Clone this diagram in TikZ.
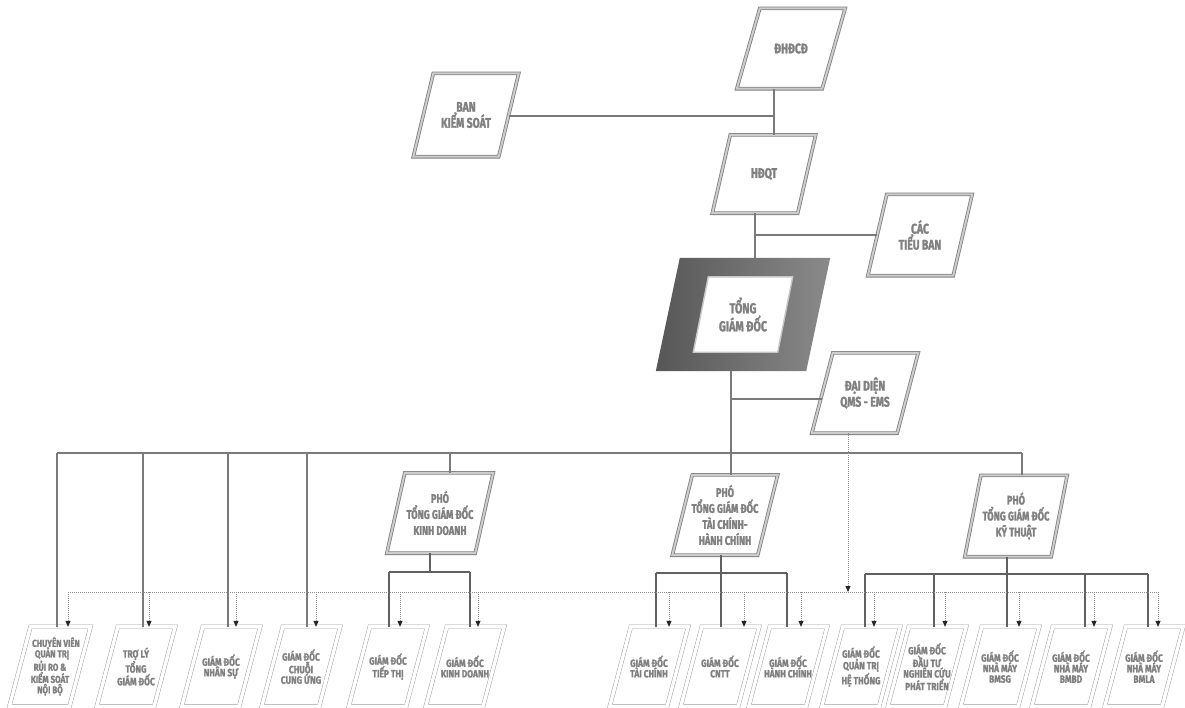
\documentclass[tikz,border=0pt]{standalone}
\usepackage{fontspec}
\newfontfamily\lblfont[FakeStretch=0.74, FakeBold=1.6]{Fira Sans}
\newfontfamily\botfont[FakeStretch=0.8, FakeBold=1.4]{Fira Sans}
\usetikzlibrary{arrows.meta,calc,backgrounds}
\definecolor{txt}{gray}{0.5}
\newcommand\para[5]{% node, slant, dx, dy, style
  \draw[#5] ([xshift=-#2/2-#3, yshift=-#4]#1.south west) -- ([xshift=-#2/2+#3, yshift=-#4]#1.south east)
   -- ([xshift=#2/2+#3, yshift=#4]#1.north east) -- ([xshift=#2/2-#3, yshift=#4]#1.north west) -- cycle;}
\newcommand\sdrop[4]{% node, xshift, bus coordinate, style
  \path ([xshift=#2]#1.north) coordinate (tmp); \draw[#4] (tmp) -- (tmp |- #3);}
\newcommand\ddrop[2]{% node, xshift
  \path ([xshift=#2]#1.north) coordinate (tmp); \draw[dotarr] (tmp |- dbus) -- (tmp);}
\begin{document}
\begin{tikzpicture}[x=1pt,y=-1pt,
  topnode/.style={inner sep=0pt, align=center, text=txt, minimum width=85pt, minimum height=80pt,
    font=\lblfont\bfseries\fontsize{14}{16}\selectfont},
  phonode/.style={topnode, font=\lblfont\bfseries\fontsize{12.5}{16}\selectfont},
  botnode/.style={topnode, minimum width=57pt, minimum height=79pt,
    font=\botfont\bfseries\fontsize{10.5}{10.5}\selectfont},
  tgdnode/.style={topnode, minimum width=84pt, minimum height=75pt,
    font=\lblfont\bfseries\fontsize{14.5}{18}\selectfont},
  topline/.style={draw=black!50, line width=0.8pt, double=black!20, double distance=2pt},
  botline/.style={draw=black!38, line width=0.45pt, double=white, double distance=3.4pt},
  conn/.style={draw=black!52, line width=1.3pt},
  subconn/.style={draw=black!62, line width=1.6pt},
  dotline/.style={draw=black!45, line width=0.8pt, dash pattern=on 0.9pt off 1.1pt},
  dotarr/.style={dotline, -{Triangle[length=6pt,width=5pt,color=black!85]}}
]
\useasboundingbox (0,0) rectangle (1185,707);

% ---- upper nodes
\node[topnode] (dhdcd) at (791,48.5) {ĐHĐCĐ};
\node[topnode, minimum height=83pt] (bks) at (466,115) {BAN\\KIỂM SOÁT};
\node[topnode, minimum height=78pt] (hdqt) at (764,174) {HĐQT};
\node[topnode, minimum height=81pt] (ctb) at (920,235) {CÁC\\TIỂU BAN};
\node[tgdnode] (tgd) at (743,314.5) {TỔNG\\GIÁM ĐỐC};
\node[topnode] (dd) at (865,393) {ĐẠI DIỆN\\QMS - EMS};
\node[phonode, minimum width=88pt] (pkd) at (440,513) {PHÓ\\TỔNG GIÁM ĐỐC\\KINH DOANH};
\node[phonode] (ptc) at (725,515) {PHÓ\\TỔNG GIÁM ĐỐC\\TÀI CHÍNH-\\HÀNH CHÍNH};
\node[phonode, minimum width=86pt, minimum height=81pt] (pkt) at (1016,516) {PHÓ\\TỔNG GIÁM ĐỐC\\KỸ THUẬT};

% ---- lower nodes
\node[botnode, font=\botfont\bfseries\fontsize{10}{10.5}\selectfont] (b1) at (50,666.5)
  {\hspace*{12pt}CHUYÊN VIÊN\\\hspace*{4pt}QUẢN TRỊ\\RỦI RO \&\\KIỂM SOÁT\\NỘI BỘ};
\node[botnode] (b2) at (136,666.5) {TRỢ LÝ\\TỔNG\\GIÁM ĐỐC};
\node[botnode] (b3) at (221,666.5) {GIÁM ĐỐC\\NHÂN SỰ};
\node[botnode] (b4) at (301,666.5) {GIÁM ĐỐC\\CHUỖI\\CUNG ỨNG};
\node[botnode] (b5) at (388,666.5) {GIÁM ĐỐC\\TIẾP THỊ};
\node[botnode] (b6) at (465,666.5) {GIÁM ĐỐC\\KINH DOANH};
\node[botnode] (b7) at (649,666.5) {GIÁM ĐỐC\\TÀI CHÍNH};
\node[botnode] (b8) at (720,666.5) {GIÁM ĐỐC\\CNTT};
\node[botnode] (b9) at (788,666.5) {GIÁM ĐỐC\\HÀNH CHÍNH};
\node[botnode] (b10) at (861,666.5) {GIÁM ĐỐC\\QUẢN TRỊ\\HỆ THỐNG};
\node[botnode] (b11) at (927,666.5) {GIÁM ĐỐC\\ĐẦU TƯ\\NGHIÊN CỨU\\PHÁT TRIỂN};
\node[botnode] (b12) at (1000,666.5) {GIÁM ĐỐC\\NHÀ MÁY\\BMSG};
\node[botnode] (b13) at (1071,666.5) {GIÁM ĐỐC\\NHÀ MÁY\\BMBD};
\node[botnode] (b14) at (1144,666.5) {GIÁM ĐỐC\\NHÀ MÁY\\BMLA};

% ---- background: white page, TGD shaded frame, box outlines (below the texts)
\begin{pgfonlayer}{background}
  \fill[white] (0,0) rectangle (1185,707);
  \shade[left color=black!66, right color=black!46]
    ([xshift=-12-33, yshift=-19]tgd.south west) -- ([xshift=-12+33, yshift=-19]tgd.south east)
    -- ([xshift=12+33, yshift=19]tgd.north east) -- ([xshift=12-33, yshift=19]tgd.north west) -- cycle;
  \para{tgd}{15}{0}{0}{fill=white, draw=black!22, line width=1.4pt}
  \para{dhdcd}{23}{0}{0}{topline}
  \para{bks}{20}{0}{0}{topline}
  \para{hdqt}{18}{0}{0}{topline}
  \para{ctb}{19}{0}{0}{topline}
  \para{dd}{21}{0}{0}{topline}
  \para{pkd}{18}{0}{0}{topline}
  \para{ptc}{20}{0}{0}{topline}
  \para{pkt}{16}{0}{0}{topline}
  \foreach \b in {b1,b2,b3,b4,b5,b6,b7,b8,b9,b10,b11,b12,b13,b14}{\para{\b}{21}{0}{0}{botline}}
\end{pgfonlayer}

% ---- upper connectors
\path ([xshift=-17]dhdcd.south) coordinate (j1);
\draw[conn] (j1) -- (j1 |- hdqt.north);
\draw[conn] ([yshift=-1]bks.east) -- ([yshift=-1]bks.east -| j1);
\path ([xshift=-9]hdqt.south) coordinate (j2);
\path ([yshift=19]tgd.north) coordinate (tgdtop);
\draw[conn] (j2) -- (j2 |- tgdtop);
\draw[conn] (ctb.west) -- (ctb.west -| j2);
\path ([xshift=-12,yshift=-19]tgd.south) coordinate (j3);
\draw[conn] (j3) -- (j3 |- ptc.north);
\path ([yshift=-6]dd.west) coordinate (j4);
\draw[conn] (j4) -- (j4 -| j3);

% ---- main bus
\coordinate (mb) at (0,453);
\path ([xshift=7]b1.north) coordinate (m1);
\path ([xshift=6]pkt.north) coordinate (m2);
\draw[conn] (m1 |- mb) -- (m2 |- mb);
\sdrop{b1}{7}{mb}{conn}
\sdrop{b2}{7}{mb}{conn}
\sdrop{b3}{7}{mb}{conn}
\sdrop{b4}{6}{mb}{conn}
\sdrop{pkd}{10}{mb}{conn}
\sdrop{pkt}{6}{mb}{conn}

% ---- sub buses
\coordinate (kdb) at (0,572);
\path ([xshift=-10]pkd.south) coordinate (k0);
\draw[subconn] (k0) -- (k0 |- kdb);
\path ([xshift=1]b5.north) coordinate (k1);
\path ([xshift=5]b6.north) coordinate (k2);
\draw[subconn] (k1 |- kdb) -- (k2 |- kdb);
\sdrop{b5}{1}{kdb}{subconn}
\sdrop{b6}{5}{kdb}{subconn}

\coordinate (tcb) at (0,573);
\path ([xshift=-4]ptc.south) coordinate (t0);
\draw[subconn] (t0) -- (t0 |- tcb);
\path ([xshift=7]b7.north) coordinate (t1);
\path ([xshift=-1]b9.north) coordinate (t2);
\draw[subconn] (t1 |- tcb) -- (t2 |- tcb);
\sdrop{b7}{7}{tcb}{subconn}
\sdrop{b8}{1}{tcb}{subconn}
\sdrop{b9}{-1}{tcb}{subconn}

\coordinate (ktb) at (0,574);
\path ([xshift=-9]pkt.south) coordinate (q0);
\draw[subconn] (q0) -- (q0 |- ktb);
\path ([xshift=4]b10.north) coordinate (q1);
\path ([xshift=4]b14.north) coordinate (q2);
\draw[subconn] (q1 |- ktb) -- (q2 |- ktb);
\sdrop{b10}{4}{ktb}{subconn}
\sdrop{b11}{7}{ktb}{subconn}
\sdrop{b12}{7}{ktb}{subconn}
\sdrop{b13}{14}{ktb}{subconn}
\sdrop{b14}{4}{ktb}{subconn}

% ---- dotted (QMS-EMS) bus
\coordinate (dbus) at (0,592);
\path ([xshift=18]b1.north) coordinate (d1);
\path ([xshift=14]b14.north) coordinate (d2);
\draw[dotline] (d1 |- dbus) -- (d2 |- dbus);
\path ([xshift=-17]dd.south) coordinate (d0);
\draw[dotarr] (d0) -- (d0 |- dbus);
\ddrop{b1}{18}
\ddrop{b2}{13}
\ddrop{b3}{15}
\ddrop{b4}{15}
\ddrop{b5}{12}
\ddrop{b6}{13}
\ddrop{b7}{20}
\ddrop{b8}{24}
\ddrop{b9}{13}
\ddrop{b10}{13}
\ddrop{b11}{18}
\ddrop{b12}{19}
\ddrop{b13}{23}
\ddrop{b14}{14}
\end{tikzpicture}
\end{document}
